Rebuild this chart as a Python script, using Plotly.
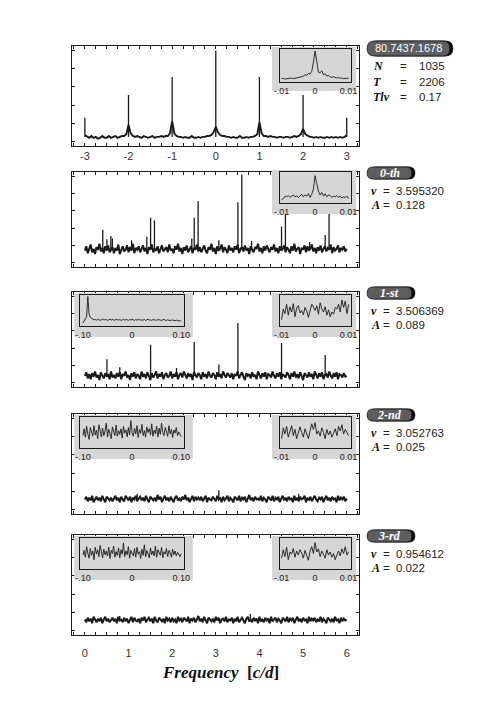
import numpy as np
import plotly.graph_objects as go

W, H = 491, 708

# ---------------- data (y values in % of panel height) ----------------
# spectral window, f = -3 .. 3 c/d
window_base = [7, 5, 4, 6, 4, 5, 3, 4, 6, 4, 4, 6, 4, 5, 6, 4, 5, 6, 6, 8,
               18, 9, 6, 5, 6, 5, 4, 6, 5, 4, 5, 6, 4, 5, 5, 6, 5, 6, 6, 9,
               22, 9, 6, 5, 5, 4, 5, 4, 4, 6, 4, 4, 5, 4, 5, 5, 6, 6, 7, 10,
               16, 10, 7, 6, 6, 5, 5, 4, 5, 4, 4, 6, 4, 4, 5, 4, 5, 5, 6, 8,
               21, 9, 6, 6, 5, 6, 5, 5, 4, 5, 5, 4, 5, 5, 4, 5, 6, 5, 6, 8,
               14, 8, 6, 5, 5, 4, 5, 4, 5, 4, 4, 5, 4, 5, 4, 5, 4, 5, 4, 5,
               7]
window_peak_f = [-3, -2, -1, 0, 1, 2, 3]
window_peak_a = [26, 51, 71, 100, 71, 51, 26]

# prewhitening residual spectra, f = 0 .. 6 c/d
noise_0th = [14, 19, 11, 17, 21, 12, 16, 10, 18, 15, 22, 13, 17, 11, 19, 14, 20, 12, 16, 18,
             11, 17, 14, 21, 10, 16, 19, 13, 15, 20, 12, 18, 14, 22, 11, 17, 15, 19, 12, 16,
             20, 13, 17, 10, 18, 15, 21, 12, 16, 14, 19, 11, 17, 20, 13, 15, 18, 12, 21, 14,
             16, 11, 19, 15, 22, 13, 17, 10, 18, 14, 20, 12, 16, 19, 11, 17, 15, 21, 13, 18,
             12, 16, 20, 14, 11, 18, 15, 22, 13, 17, 10, 19, 14, 16, 21, 12, 18, 15, 11, 20,
             14, 17, 12, 19, 15, 21, 11, 16, 18, 13, 20, 14, 17, 10, 19, 15, 12, 18, 16, 22,
             13, 17, 11, 19, 14, 20, 16, 12, 18, 15, 21, 13, 17, 11, 19, 14, 16, 20, 12, 18,
             15, 11, 19, 14, 22, 13, 16, 18, 10, 17, 15, 20, 12, 19, 14, 16, 21, 13, 17, 11,
             18, 14, 20, 12, 16, 19, 13, 17, 15, 21, 11, 18, 14, 16, 20, 12, 17, 15, 19, 13,
             16]
noise_1st = [8, 12, 5, 10, 4, 11, 7, 13, 6, 9, 3, 12, 8, 5, 11, 7, 10, 4, 13, 6,
             9, 5, 11, 7, 12, 4, 10, 8, 13, 6, 9, 3, 11, 7, 12, 5, 10, 8, 4, 13,
             7, 10, 5, 12, 8, 3, 11, 6, 9, 13, 5, 10, 7, 12, 4, 9, 11, 6, 8, 13,
             5, 10, 7, 12, 4, 9, 11, 6, 13, 8, 5, 11, 7, 10, 3, 12, 8, 6, 11, 9,
             4, 12, 7, 10, 5, 13, 8, 6, 11, 9, 4, 12, 7, 10, 5, 13, 9, 6, 11, 8,
             6, 11, 4, 10, 8, 13, 5, 9, 12, 7, 3, 11, 8, 10, 5, 12, 7, 9, 4, 13,
             8, 5, 11, 7, 12, 4, 10, 9, 6, 13, 8, 5, 11, 7, 12, 4, 10, 8, 6, 12,
             9, 4, 11, 7, 13, 6, 10, 5, 12, 8, 3, 11, 9, 6, 12, 7, 10, 4, 13, 8,
             5, 11, 7, 12, 4, 9, 10, 6, 13, 8, 5, 11, 7, 12, 4, 10, 9, 6, 11, 7,
             8]
noise_2nd = [11, 14, 9, 13, 10, 15, 8, 12, 14, 10, 13, 9, 15, 11, 8, 14, 12, 10, 13, 9,
             12, 15, 10, 13, 8, 14, 11, 9, 15, 12, 10, 14, 8, 13, 11, 15, 9, 12, 14, 10,
             13, 9, 15, 11, 8, 14, 12, 10, 13, 9, 16, 11, 14, 8, 12, 15, 10, 13, 9, 14,
             11, 8, 13, 15, 10, 12, 9, 14, 11, 16, 10, 13, 8, 12, 15, 9, 14, 11, 13, 10,
             14, 9, 12, 15, 8, 13, 11, 10, 14, 12, 9, 15, 11, 13, 8, 14, 10, 12, 15, 9,
             13, 11, 8, 14, 12, 10, 15, 9, 13, 11, 14, 8, 12, 16, 10, 13, 9, 14, 11, 12,
             10, 15, 9, 13, 11, 8, 14, 12, 10, 15, 9, 13, 11, 14, 8, 12, 15, 10, 13, 9,
             14, 11, 12, 8, 15, 10, 13, 9, 14, 11, 12, 15, 8, 13, 10, 14, 9, 12, 15, 11,
             9, 13, 11, 14, 8, 12, 15, 10, 13, 9, 14, 11, 12, 8, 15, 10, 13, 11, 14, 9,
             12]
noise_3rd = [12, 9, 14, 10, 13, 8, 15, 11, 9, 13, 10, 14, 8, 12, 15, 10, 13, 9, 11, 14,
             10, 13, 8, 15, 11, 12, 9, 14, 10, 13, 8, 12, 15, 9, 14, 11, 10, 13, 8, 14,
             11, 15, 9, 12, 14, 10, 13, 8, 15, 11, 9, 14, 12, 10, 13, 8, 15, 11, 13, 9,
             14, 10, 12, 8, 15, 11, 13, 9, 14, 12, 10, 15, 8, 13, 11, 14, 9, 12, 16, 10,
             13, 9, 15, 11, 8, 14, 12, 10, 13, 9, 15, 11, 14, 8, 12, 13, 10, 15, 9, 12,
             11, 14, 8, 13, 10, 15, 9, 12, 14, 11, 8, 13, 15, 10, 12, 9, 14, 11, 13, 8,
             15, 10, 12, 9, 14, 11, 13, 8, 15, 10, 12, 14, 9, 13, 11, 8, 14, 12, 10, 15,
             9, 13, 11, 14, 8, 12, 15, 10, 13, 9, 14, 11, 12, 8, 15, 10, 13, 11, 14, 9,
             12, 10, 15, 9, 13, 11, 8, 14, 12, 10, 13, 9, 15, 11, 12, 8, 14, 10, 13, 11,
             12]
noise_levels = [15, 8, 11.5, 11]

peaks_f = [
    [0.41, 0.506, 0.595, 0.63, 1.07, 1.42, 1.506, 1.595, 2.45, 2.506, 2.595, 3.07,
     3.506, 3.595, 3.82, 4.506, 4.595, 5.15, 5.506, 5.595],
    [0.506, 0.80, 1.506, 2.10, 2.506, 3.07, 3.506, 4.506, 5.506],
    [1.20, 3.07, 4.90],
    [0.80, 3.79],
]
peaks_a = [
    [38, 27, 31, 28, 26, 30, 52, 49, 28, 52, 71, 26, 70, 102, 25, 42, 76, 24, 32, 63],
    [27, 18, 44, 17, 47, 21, 69, 46, 32],
    [17, 21, 17],
    [16, 18],
]

# zoomed insets: right ones span +-0.01 c/d, left ones +-0.10 c/d
zoom_window = [10, 11, 9, 10, 11, 10, 12, 10, 11, 13, 12, 14, 16, 18, 22, 20, 26, 24, 32, 60,
               94, 62, 30, 28, 34, 22, 25, 18, 20, 15, 14, 16, 13, 12, 14, 11, 12, 10, 11, 10, 11]
zoom_right = [
    [10, 14, 22, 20, 24, 18, 22, 26, 20, 23, 18, 24, 28, 20, 26, 22, 30, 18, 28, 45,
     88, 62, 38, 26, 34, 22, 30, 20, 26, 24, 18, 22, 20, 24, 18, 22, 16, 20, 18, 22, 14],
    [20, 55, 40, 70, 35, 62, 45, 72, 30, 58, 66, 42, 50, 36, 60, 48, 28, 55, 70, 62,
     50, 65, 38, 75, 55, 45, 62, 35, 52, 30, 45, 38, 60, 55, 70, 45, 84, 60, 80, 40, 70],
    [30, 65, 45, 70, 35, 55, 72, 40, 60, 30, 48, 68, 50, 35, 62, 45, 30, 55, 78, 60,
     82, 45, 55, 38, 65, 50, 30, 60, 42, 55, 35, 48, 62, 40, 70, 55, 75, 45, 60, 50, 40],
    [35, 62, 40, 70, 30, 55, 48, 66, 38, 58, 45, 62, 52, 35, 60, 42, 28, 58, 72, 50,
     85, 55, 65, 40, 58, 48, 35, 62, 45, 55, 38, 50, 30, 46, 58, 42, 65, 50, 72, 45, 55],
]
zoom_left = [
    None,
    [10, 18, 25, 30, 95, 38, 28, 24,
     22, 20, 21, 19, 22, 20, 18, 21, 20, 22, 19, 21, 18, 20, 22, 19, 21, 20, 18, 22,
     20, 19, 21, 18, 20, 22, 19, 21, 20, 18, 21, 19, 22, 20, 18, 21, 19, 20, 22, 18,
     20, 19, 21, 18, 20, 22, 19, 20, 18, 21, 19, 20, 18, 21, 20, 19, 18, 20, 21, 19,
     18, 20, 19, 17, 20, 18, 19, 17, 19, 18, 16, 18, 15],
    [40, 62, 35, 70, 45, 28, 66, 50, 38, 72, 42, 58, 30, 75, 48, 36, 64, 40, 55, 80,
     35, 60, 46, 30, 68, 52, 40, 74, 38, 56, 44, 62, 32, 70, 48, 58, 36, 66, 42, 88,
     50, 38, 64, 45, 72, 34, 60, 48, 76, 40, 56, 35, 68, 50, 62, 42, 78, 38, 58, 46,
     70, 36, 64, 44, 80, 50, 40, 66, 55, 38, 72, 46, 60, 34, 58, 48, 66, 40, 52, 44, 36],
    [45, 60, 38, 72, 50, 35, 66, 44, 58, 30, 70, 48, 62, 40, 76, 52, 36, 64, 46, 58,
     42, 70, 34, 60, 50, 74, 38, 56, 44, 68, 36, 62, 48, 84, 40, 58, 46, 72, 35, 60,
     52, 42, 66, 38, 70, 48, 56, 34, 64, 44, 78, 40, 60, 50, 36, 68, 46, 58, 42, 74,
     38, 62, 50, 44, 70, 36, 56, 48, 66, 40, 60, 52, 38, 64, 46, 58, 42, 54, 48, 40, 50],
]

window_tag = "80.7437.1678"
window_info = [("N", "1035"), ("T", "2206"), ("Tlν", "0.17")]
step_tags = ["0-th", "1-st", "2-nd", "3-rd"]
step_nu = ["3.595320", "3.506369", "3.052763", "0.954612"]
step_amp = ["0.128", "0.089", "0.025", "0.022"]

window_ticks = ["-3", "-2", "-1", "0", "1", "2", "3"]
freq_ticks = ["0", "1", "2", "3", "4", "5", "6"]

# ---------------- figure ----------------
INK = "#1a1a1a"
GRAY = "#d6d6d6"
SANS = "Liberation Sans"
SERIF = "Liberation Serif"

fig = go.Figure()
layout = dict(width=W, height=H, margin=dict(l=0, r=0, t=0, b=0),
              paper_bgcolor="white", plot_bgcolor="rgba(0,0,0,0)",
              showlegend=False)
shapes, annotations = [], []
n_axes = [0]


def X(px):
    return px / W


def Y(py):
    return 1 - py / H


def new_axes(x0, x1, y0, y1, xa, ya):
    n_axes[0] += 1
    s = "" if n_axes[0] == 1 else str(n_axes[0])
    layout["xaxis" + s] = dict(domain=[X(x0), X(x1)], anchor="y" + s, **xa)
    layout["yaxis" + s] = dict(domain=[Y(y1), Y(y0)], anchor="x" + s, **ya)
    return "x" + s, "y" + s


def main_xaxis(rng, lo, hi, labels, first):
    # ticks every 0.25, labels only on whole numbers
    vals = np.arange(lo, hi + 0.001, 0.25)
    text = []
    for v in vals:
        k = int(round(v)) - first
        on_int = abs(v - round(v)) < 1e-9
        text.append(labels[k] if labels and on_int and 0 <= k < len(labels) else "")
    return dict(range=rng, tickvals=vals, ticktext=text, showticklabels=bool(labels),
                ticks="inside", ticklen=3, tickcolor=INK, tickwidth=1,
                showline=True, linecolor=INK, linewidth=1, mirror="ticks",
                showgrid=False, zeroline=False,
                tickfont=dict(family=SANS, size=11, color="#333"))


main_yaxis = dict(range=[-5, 105], tick0=0, dtick=20, ticks="inside", ticklen=3,
                  tickcolor=INK, showticklabels=False, showline=True, linecolor=INK,
                  linewidth=1, mirror="ticks", showgrid=False, zeroline=False)


def spikes(fs, amps, base):
    xs, ys = [], []
    for f, a in zip(fs, amps):
        xs += [f, f, None]
        ys += [base, a, None]
    return xs, ys


def inset(box, frame, xr, vals, labels, values):
    bx, by = new_axes(*box, dict(range=[0, 1], visible=False), dict(range=[0, 1], visible=False))
    shapes.append(dict(type="rect", xref=bx, yref=by, x0=0, x1=1, y0=0, y1=1,
                       fillcolor=GRAY, line=dict(width=0), layer="below"))
    xa = dict(range=[-xr * 1.06, xr * 1.06], tickvals=values, ticktext=labels,
              ticks="", showline=True, linecolor=INK, linewidth=1.3, mirror=True,
              showgrid=False, zeroline=False,
              tickfont=dict(family=SANS, size=9, color="#222"))
    ya = dict(range=[0, 100], showticklabels=False, ticks="", showline=True,
              linecolor=INK, linewidth=1.3, mirror=True, showgrid=False, zeroline=False)
    ix, iy = new_axes(*frame, xa, ya)
    fig.add_trace(go.Scatter(x=np.linspace(-xr, xr, len(vals)), y=vals, mode="lines",
                             line=dict(color=INK, width=0.9), xaxis=ix, yaxis=iy,
                             hoverinfo="skip"))


def pill(x0, y0, x1, y1, text, font):
    for dx, fill in ((3, "#050505"), (0, "#5e5e5e")):
        a, b = x0 + dx, x1 + dx
        r = (y1 - y0) / 2
        path = (f"M {X(a + r)},{Y(y0)} L {X(b - r)},{Y(y0)} "
                f"Q {X(b)},{Y(y0)} {X(b)},{Y(y0 + r)} Q {X(b)},{Y(y1)} {X(b - r)},{Y(y1)} "
                f"L {X(a + r)},{Y(y1)} Q {X(a)},{Y(y1)} {X(a)},{Y(y0 + r)} "
                f"Q {X(a)},{Y(y0)} {X(a + r)},{Y(y0)} Z")
        shapes.append(dict(type="path", xref="paper", yref="paper", path=path,
                           fillcolor=fill, line=dict(color="#111", width=0.8)))
    annotations.append(dict(x=X((x0 + x1) / 2), y=Y((y0 + y1) / 2), xref="paper", yref="paper",
                            xanchor="center", yanchor="middle",
                            text=text, showarrow=False, font=font))


def label(px, py, text, font, anchor="left"):
    annotations.append(dict(x=X(px), y=Y(py), xref="paper", yref="paper", text=text,
                            showarrow=False, xanchor=anchor, yanchor="middle", font=font))


sym_font = dict(family=SERIF, size=12, color="#111")
num_font = dict(family=SANS, size=11.5, color="#222")

# panel 1: spectral window
xa1 = main_xaxis([-3.29, 3.29], -3.25, 3.25, window_ticks, -3)
px_, py_ = new_axes(68, 363, 46, 146, xa1, main_yaxis)
fig.add_trace(go.Scatter(x=np.linspace(-3, 3, len(window_base)), y=window_base, mode="lines",
                         line=dict(color=INK, width=1.9), xaxis=px_, yaxis=py_, hoverinfo="skip"))
sx, sy = spikes(window_peak_f, window_peak_a, 5)
fig.add_trace(go.Scatter(x=sx, y=sy, mode="lines", line=dict(color=INK, width=1.3),
                         xaxis=px_, yaxis=py_, hoverinfo="skip"))
inset((273, 360, 47, 91), (281, 354, 49, 82), 0.01, zoom_window,
      ["-.01", "0", "0.01"], [-0.01, 0, 0.01])
pill(371, 41, 456, 56, window_tag, dict(family=SANS, size=11, color="white"))
for (sym, val), py in zip(window_info, [66, 82, 97]):
    label(375, py, f"<b><i>{sym}</i></b>", sym_font)
    label(408, py, "=", num_font, "center")
    label(422, py, val, num_font)

# panels 2-5: prewhitening steps
frames = [(172, 267), (292, 387), (414, 514), (535, 635)]
noises = [noise_0th, noise_1st, noise_2nd, noise_3rd]
for i, (y0, y1) in enumerate(frames):
    labels = freq_ticks if i == 3 else None
    xa = main_xaxis([-0.29, 6.29], -0.25, 6.25, labels, 0)
    if labels:
        xa["ticklabelstandoff"] = 8
    mx, my = new_axes(68, 363, y0, y1, xa, main_yaxis)
    fig.add_trace(go.Scatter(x=np.linspace(0, 6, len(noises[i])), y=noises[i], mode="lines",
                             line=dict(color=INK, width=2.0), xaxis=mx, yaxis=my, hoverinfo="skip"))
    sx, sy = spikes(peaks_f[i], peaks_a[i], noise_levels[i])
    fig.add_trace(go.Scatter(x=sx, y=sy, mode="lines", line=dict(color=INK, width=1.3),
                             xaxis=mx, yaxis=my, hoverinfo="skip"))
    top = y0 - 2 if i == 0 else y0 + 1
    if zoom_left[i] is not None:
        inset((70, 192, top, top + 44), (76, 183, top + 2, top + 33), 0.10, zoom_left[i],
              ["-.10", "0", "0.10"], [-0.10, 0, 0.10])
    inset((273, 360, top, top + 44), (281, 354, top + 2, top + 33), 0.01, zoom_right[i],
          ["-.01", "0", "0.01"], [-0.01, 0, 0.01])
    pc = y0 + 1
    pill(371, pc - 6, 417, pc + 6, f"<b><i>{step_tags[i]}</i></b>",
         dict(family=SERIF, size=12, color="white"))
    label(373, pc + 18, "<b><i>ν</i></b>", sym_font)
    label(391, pc + 18, "=", num_font, "center")
    label(399, pc + 18, step_nu[i], num_font)
    label(373, pc + 32, "<b><i>A</i></b>", sym_font)
    label(391, pc + 32, "=", num_font, "center")
    label(399, pc + 32, step_amp[i], num_font)

label(220, 672, "<b><i>Frequency</i></b>  <b>[<i>c/d</i>]</b>",
      dict(family=SERIF, size=17, color="#111"), "center")

layout["shapes"] = shapes
layout["annotations"] = annotations
fig.update_layout(**layout)
fig.write_html("out.html", config={"displayModeBar": False},
               post_script="document.body.style.margin='0';document.body.style.overflow='hidden';")
